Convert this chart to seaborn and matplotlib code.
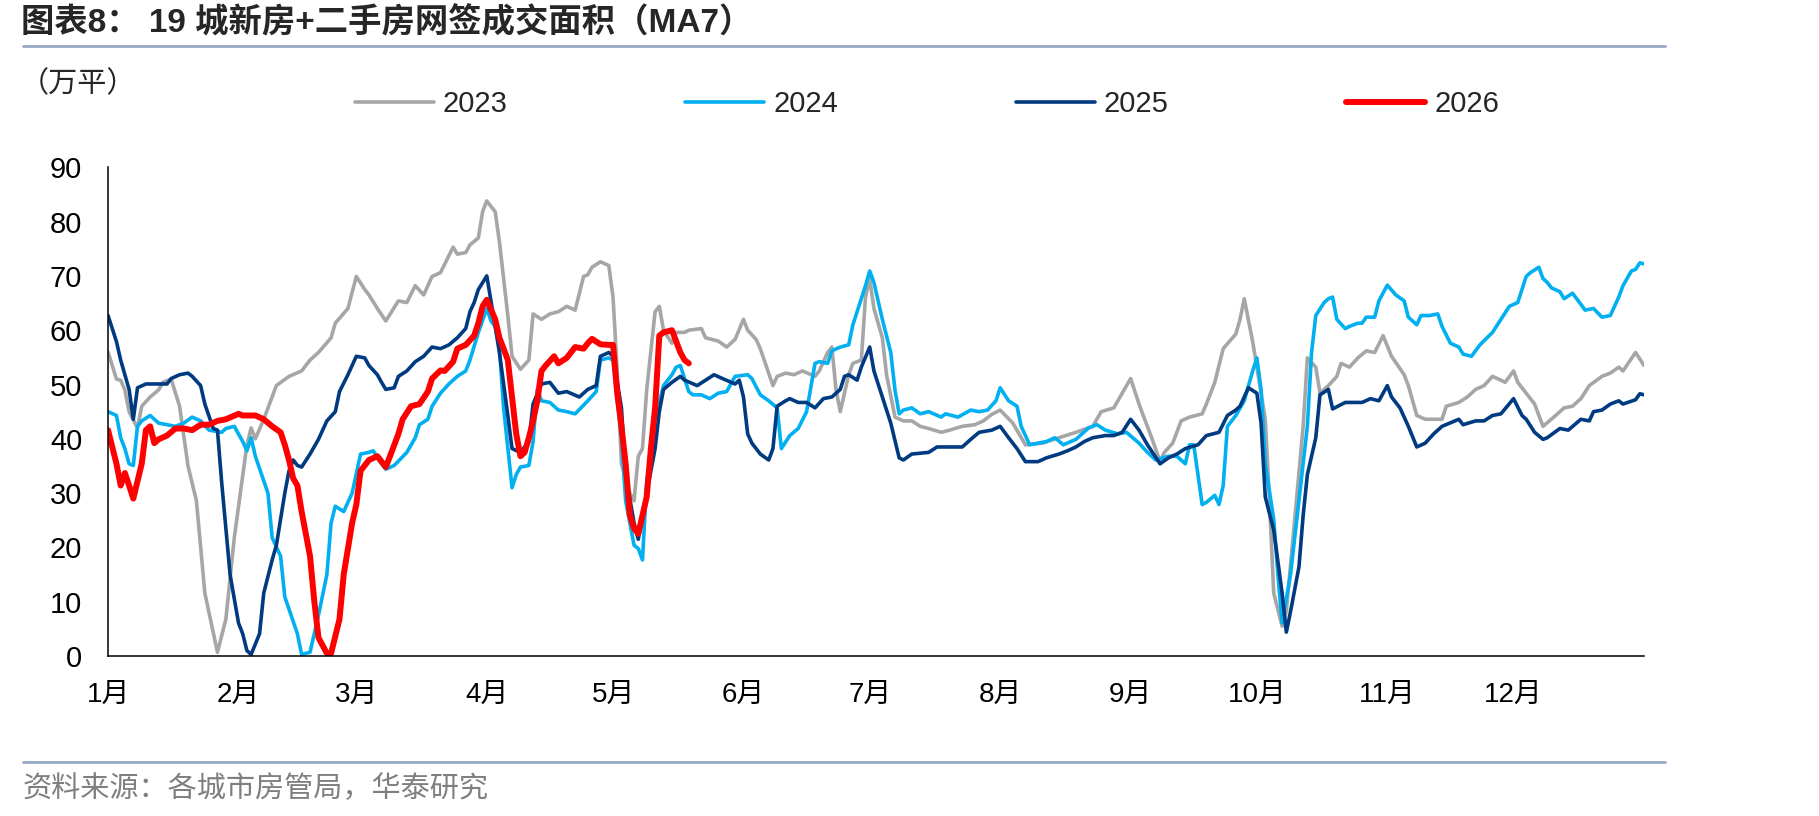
import matplotlib
matplotlib.use("Agg")
import matplotlib.pyplot as plt
from matplotlib.lines import Line2D
import pandas as pd
import seaborn as sns

# ---- data (day of year, 0 = Jan 1) ----
months = ["1月", "2月", "3月", "4月", "5月", "6月", "7月", "8月", "9月", "10月", "11月", "12月"]
month_start = [0, 31, 59, 90, 120, 151, 181, 212, 243, 273, 304, 334]

d2023 = [0, 2, 3, 4, 5, 7, 8, 10, 12, 13, 15, 17, 19, 21, 23, 26, 28, 30, 33, 34, 35, 37, 40, 43, 46, 48,
         50, 53, 54, 57, 59, 61, 62, 64, 66, 69, 71, 73, 75, 77, 79, 82, 83, 85, 86, 88, 89, 90, 92, 93,
         95, 96, 98, 100, 101, 103, 105, 107, 109, 111, 113, 114, 115, 117, 119, 120, 121, 122, 124, 125,
         126, 127, 128, 130, 131, 132, 134, 135, 137, 138, 141, 142, 145, 147, 149, 151, 152, 154, 155,
         158, 159, 161, 163, 165, 168, 169, 171, 172, 173, 174, 176, 177, 179, 180, 181, 182, 184, 185,
         187, 189, 191, 193, 195, 198, 200, 203, 206, 208, 210, 212, 215, 218, 222, 226, 230, 234, 236,
         239, 241, 243, 245, 246, 248, 250, 251, 253, 255, 257, 260, 261, 263, 265, 268, 269, 270, 272,
         273, 275, 276, 277, 279, 280, 282, 284, 285, 287, 288, 290, 292, 293, 295, 297, 299, 301, 303,
         305, 308, 309, 311, 313, 317, 318, 321, 323, 325, 327, 329, 331, 332, 334, 335, 337, 339, 341,
         344, 346, 348, 350, 352, 355, 357, 359, 360, 363, 365]
v2023 = [56, 51, 50.8, 49, 45, 42, 46, 47.7, 49, 50.4, 51, 46, 35, 28.6, 11.6, 0.7, 6.8, 21.8, 38.9, 42, 40,
         43.6, 49.8, 51.5, 52.5, 54.5, 55.9, 58.6, 61.3, 64, 69.9, 67.5, 66.5, 64, 61.7, 65.4, 65.1, 68.2,
         66.5, 69.9, 70.6, 75.3, 74, 74.3, 75.7, 77, 81.8, 83.8, 81.8, 76.3, 62.7, 55.2, 52.8, 54.5, 63, 62,
         63, 63.4, 64.4, 63.7, 69.9, 70.2, 71.6, 72.6, 71.9, 66.1, 52.5, 35.4, 30, 28.6, 36.8, 38.2, 49,
         63.4, 64.4, 60, 57.6, 59.6, 59.6, 60, 60.3, 58.6, 58, 56.9, 58.3, 62, 60, 58.3, 56.6, 49.8, 51.5,
         52.1, 51.8, 52.5, 51.5, 52.5, 55.9, 56.9, 49, 45, 51.8, 53.9, 54.5, 66.1, 69.5, 64, 58.6, 51.8, 44,
         43.3, 43.3, 42.3, 41.9, 41.2, 41.6, 42.3, 42.6, 43.3, 44.5, 45.3, 42.9, 38.9, 39.2, 40.2, 41.2,
         42.3, 45, 45.7, 48.4, 51.1, 46.4, 44.3, 40.2, 35.8, 37.5, 39.2, 43.3, 44, 44.6, 46.4, 50.4, 56.6,
         59.3, 62, 65.8, 57.9, 53.2, 43.6, 28.6, 11.6, 5.5, 8.2, 25.2, 42.3, 54.9, 53.2, 48.4, 49.8, 51.5,
         53.9, 53.2, 54.9, 56.2, 55.9, 59, 55.2, 51.8, 49.8, 44.3, 43.6, 43.6, 46, 46.7, 47.7, 49.1, 49.8,
         51.5, 50.8, 50.4, 52.5, 50.4, 48.4, 46.4, 42.3, 44.3, 45.7, 46, 47.4, 49.8, 51.5, 52.1, 53.2, 52.5,
         55.9, 53.5]

d2024 = [0, 2, 3, 4, 5, 6, 7, 8, 10, 12, 14, 16, 18, 20, 22, 24, 27, 28, 30, 32, 33, 34, 35, 38, 39, 41,
         42, 45, 46, 48, 50, 52, 53, 54, 56, 58, 60, 62, 63, 65, 66, 68, 71, 73, 74, 76, 77, 79, 81, 83, 85,
         86, 88, 90, 91, 92, 93, 94, 96, 97, 98, 100, 101, 102, 103, 105, 107, 109, 111, 114, 116, 117,
         119, 120, 122, 123, 125, 126, 127, 128, 130, 132, 134, 135, 136, 138, 139, 141, 143, 145, 147,
         149, 152, 153, 155, 157, 159, 160, 162, 164, 166, 168, 169, 171, 172, 174, 176, 177, 179, 180,
         181, 182, 184, 186, 187, 188, 189, 191, 193, 195, 198, 199, 202, 205, 207, 209, 211, 212, 214,
         216, 217, 219, 221, 223, 225, 227, 230, 233, 235, 237, 240, 242, 245, 247, 249, 252, 254, 256,
         257, 258, 260, 261, 263, 264, 265, 266, 268, 270, 272, 273, 274, 275, 277, 278, 279, 281, 283,
         285, 286, 287, 289, 290, 291, 292, 294, 295, 297, 298, 299, 301, 302, 304, 306, 308, 309, 311,
         312, 314, 316, 317, 319, 321, 322, 324, 326, 329, 331, 333, 335, 337, 338, 340, 341, 342, 343,
         345, 346, 348, 349, 351, 353, 355, 357, 359, 360, 362, 363, 364, 365]
v2024 = [45, 44.3, 40.2, 38.2, 35.4, 35.1, 42.3, 43.3, 44.3, 42.9, 42.6, 42.3, 42.9, 44, 43.3, 41.6, 41.2,
         41.9, 42.3, 39.5, 37.8, 40.2, 36.8, 30, 21.8, 18.4, 10.9, 4.1, 0.3, 0.7, 7.5, 15, 24.5, 27.6, 26.6,
         30, 37.2, 37.5, 37.8, 35.4, 34.4, 35.1, 37.5, 40.2, 42.6, 43.6, 46, 48.4, 50.1, 51.5, 52.5, 54.5,
         59.6, 64, 61.7, 60.7, 56.6, 45.7, 31, 33.4, 34.8, 35.1, 39.5, 49.1, 47, 46.7, 45.3, 45, 44.6, 47,
         48.7, 54.5, 54.9, 54.5, 40.2, 28.6, 20.4, 19.8, 17.7, 32, 43.6, 49.8, 51.8, 53.2, 53.5, 48.7, 48.1,
         48.1, 47.4, 48.4, 48.7, 51.5, 51.8, 51.1, 48.1, 47, 45.7, 38.2, 40.6, 41.9, 45, 53.9, 54.2, 53.9,
         56.2, 56.9, 57.3, 61, 65.8, 68.2, 70.9, 68.8, 62, 55.9, 49, 44.6, 45.3, 45.7, 44.6, 45, 44, 44.6,
         44, 45.3, 45, 45.3, 47, 49.4, 47, 46, 42.3, 38.9, 39.2, 39.5, 40.2, 38.9, 39.9, 42, 42.6, 41.6,
         40.9, 41.2, 39.2, 37.5, 36.1, 36.8, 36.8, 35.4, 38.9, 38.9, 27.9, 28.3, 29.6, 27.9, 31.4, 42.3,
         44.3, 47, 52.5, 54.9, 49.1, 35.4, 25.2, 15, 6.1, 15, 28.6, 42.3, 55.9, 62.7, 65.1, 65.8, 66.1, 62,
         60.3, 60.7, 61.3, 61.3, 62.4, 62.4, 65.4, 68.3, 66.5, 65.4, 62.4, 61, 62.7, 62.7, 63, 60.7, 57.6,
         56.9, 55.6, 55.2, 57.3, 59.6, 62, 64.4, 65.1, 69.9, 70.6, 71.6, 69.5, 68.8, 67.8, 67.1, 65.8, 66.8,
         65.8, 63.7, 64, 62.4, 62.7, 66.1, 68.2, 70.9, 71.2, 72.4, 72.2]

d2025 = [0, 2, 3, 4, 5, 6, 7, 9, 12, 14, 15, 17, 19, 20, 22, 23, 25, 26, 27, 29, 31, 32, 33, 34, 36, 37,
         39, 40, 42, 43, 44, 45, 46, 48, 50, 51, 52, 54, 55, 57, 59, 61, 62, 64, 65, 66, 68, 69, 71, 73, 75,
         77, 79, 81, 83, 85, 86, 87, 88, 90, 91, 92, 93, 95, 96, 98, 100, 101, 103, 105, 107, 109, 112,
         114, 116, 117, 119, 120, 122, 123, 125, 126, 128, 130, 131, 132, 134, 136, 137, 140, 142, 144,
         146, 149, 150, 151, 152, 153, 155, 157, 158, 159, 161, 162, 164, 166, 168, 170, 172, 174, 175,
         176, 178, 179, 181, 182, 184, 186, 188, 189, 191, 195, 197, 200, 203, 205, 207, 210, 212, 214,
         216, 218, 221, 223, 226, 228, 230, 232, 234, 237, 239, 241, 243, 245, 247, 250, 252, 254, 256,
         259, 261, 264, 266, 268, 269, 271, 273, 274, 275, 277, 279, 280, 281, 283, 284, 285, 287, 288,
         290, 291, 294, 298, 300, 302, 304, 305, 307, 309, 311, 313, 315, 317, 321, 322, 325, 327, 329,
         331, 334, 336, 337, 339, 341, 342, 345, 347, 350, 352, 353, 355, 357, 359, 360, 363, 364, 365]
v2025 = [62.7, 57.9, 54.5, 51.8, 49.1, 43.6, 49.4, 50.1, 50.1, 50.1, 51.1, 51.8, 52.1, 51.5, 49.8, 46.4,
         41.9, 41.6, 32, 15, 6.1, 4.1, 1, 0.3, 4.1, 11.6, 17.7, 20.4, 30, 34.1, 36.1, 35.1, 34.8, 37.2,
         39.9, 41.6, 43.3, 45, 48.7, 51.8, 55.2, 54.9, 53.5, 51.8, 50.4, 49.1, 49.4, 51.5, 52.5, 54.2, 55.2,
         56.9, 56.6, 57.3, 58.6, 60.3, 63.4, 65.1, 67.5, 70, 65.4, 60.7, 55.9, 44.3, 38.2, 37.5, 39.5,
         46.4, 50.1, 50.4, 48.4, 48.7, 47.7, 49.1, 49.8, 55.2, 55.9, 55.2, 45.7, 33.4, 24.5, 21.5, 30,
         38.2, 45, 49.1, 50.4, 51.5, 50.8, 49.8, 50.8, 51.8, 51.1, 50.1, 50.8, 47.7, 40.9, 39.2, 37.2,
         36.1, 38.2, 46, 47, 47.4, 46.7, 46.7, 45.7, 47.4, 47.7, 49.1, 51.5, 51.8, 50.8, 53.2, 56.9, 52.5,
         47.7, 42.9, 36.5, 36.1, 37.2, 37.5, 38.5, 38.5, 38.5, 39.9, 41.2, 41.6, 42.3, 40.2, 38.2, 35.8,
         35.8, 36.5, 37.2, 37.8, 38.5, 39.5, 40.2, 40.6, 40.6, 41.2, 43.6, 41.6, 38.9, 35.4, 36.5, 37.2,
         38.2, 38.9, 40.6, 41.2, 44.3, 45.3, 46, 49.4, 48.4, 42.9, 29.3, 23.2, 11.6, 4.4, 8.2, 16.4, 25.9,
         33.4, 40.2, 48.1, 49.1, 45.5, 46.7, 46.7, 47.4, 47, 49.8, 47.7, 45.7, 42.3, 38.5, 39.2, 40.9,
         42.3, 43.6, 42.6, 43.3, 43.3, 44.3, 44.6, 47.4, 44.3, 43.6, 41.2, 39.9, 40.2, 41.9, 41.6, 43.6,
         43.3, 45, 45.3, 46.4, 47, 46.4, 47.2, 48.3, 48.1]

d2026 = [0, 2, 3, 4, 5, 6, 8, 9, 10, 11, 12, 14, 16, 18, 20, 22, 24, 26, 28, 31, 32, 35, 37, 39, 41, 42,
         43, 44, 45, 46, 48, 49, 50, 52, 53, 55, 56, 58, 59, 60, 62, 64, 66, 67, 69, 70, 72, 74, 76, 77,
         79, 80, 82, 83, 85, 87, 88, 89, 90, 92, 93, 94, 95, 96, 97, 98, 99, 100, 101, 102, 103, 104, 106,
         107, 109, 111, 113, 114, 115, 117, 119, 120, 121, 122, 123, 124, 125, 126, 128, 129, 130, 131,
         132, 134, 136, 137, 138]
v2026 = [41.6, 35.4, 31.4, 33.7, 31.4, 29, 35.4, 41.6, 42.3, 39.2, 39.9, 40.6, 41.9, 41.9, 41.6, 42.6,
         42.6, 43.3, 43.6, 44.6, 44.3, 44.3, 43.6, 42.3, 41.2, 38.9, 36.1, 32.7, 31.4, 26.6, 18.4, 10.2,
         3.4, 0.5, 0.5, 6.8, 15, 24.5, 27.9, 34.1, 36.1, 36.8, 34.8, 36.8, 40.9, 43.6, 46, 46.4, 48.7,
         51.1, 52.6, 52.5, 54.2, 56.6, 57.3, 59, 61.3, 64.4, 65.6, 62, 58.6, 56.6, 54.5, 47.7, 40.9, 36.8,
         37.5, 40.2, 43.3, 47, 52.5, 53.5, 55.2, 53.9, 54.9, 56.9, 56.6, 57.6, 58.4, 57.4, 57.3, 57.3,
         48.4, 42.3, 35.4, 25.9, 23.5, 22.5, 29.3, 38.2, 45.7, 59, 59.6, 60, 55.9, 54.5, 53.9]

years = ["2023", "2024", "2025", "2026"]
colors = {"2023": "#A6A6A6", "2024": "#00B0F0", "2025": "#003A80", "2026": "#FF0000"}
widths = {"2023": 2.6, "2024": 2.6, "2025": 2.6, "2026": 4.3}

df = pd.concat([
    pd.DataFrame({"day": d, "value": v, "year": y})
    for y, d, v in zip(years, [d2023, d2024, d2025, d2026], [v2023, v2024, v2025, v2026])
])

sns.set_theme(style="white")
plt.rcParams["font.family"] = ["Liberation Sans", "Noto Sans CJK SC", "DejaVu Sans"]

fig = plt.figure(figsize=(18.19, 8.16), dpi=100)
ax = fig.add_axes([0.0594, 0.196, 0.8444, 0.599])

for y in years:
    sub = df[df["year"] == y]
    sns.lineplot(data=sub, x="day", y="value", ax=ax, color=colors[y], linewidth=widths[y],
                 estimator=None, sort=False, legend=False)

ax.set_xlim(0, 365)
ax.set_ylim(0, 90)
ax.set_xticks(month_start + [365])
ax.set_xticklabels(months + [""])
ax.set_yticks(range(0, 91, 10))
ax.set_xlabel("")
ax.set_ylabel("")
for side in ["top", "right"]:
    ax.spines[side].set_visible(False)
for side in ["left", "bottom"]:
    ax.spines[side].set_color("black")
    ax.spines[side].set_linewidth(1.1)
ax.tick_params(axis="both", direction="out", length=6.5, width=1.1, color="black",
               labelsize=20, labelcolor="black")
ax.tick_params(axis="y", labelsize=21, pad=12)
ax.tick_params(axis="x", pad=12)

# legend
handles = [Line2D([], [], color=colors[y], lw=widths[y], solid_capstyle="round") for y in years]
fig.legend(handles, years, loc="center", bbox_to_anchor=(0.5096, 0.8725), ncol=4, frameon=False,
           fontsize=21, handlelength=2.7, handletextpad=0.31, columnspacing=6.1)

# header / footer
fig.text(0.0115, 0.9718, "图表8： 19 城新房+二手房网签成交面积（MA7）", fontsize=24, fontweight="bold",
         ha="left", va="center")
fig.add_artist(Line2D([0.0126, 0.9153], [0.9436, 0.9436], color="#95AAC5", lw=2))
fig.text(0.011, 0.897, "（万平）", fontsize=21, ha="left", va="center")
fig.add_artist(Line2D([0.0126, 0.9153], [0.0662, 0.0662], color="#95AAC5", lw=2))
fig.text(0.0126, 0.033, "资料来源：各城市房管局，华泰研究", fontsize=21, color="#7F7F7F",
         ha="left", va="center")

fig.savefig("out.png", dpi=100)
